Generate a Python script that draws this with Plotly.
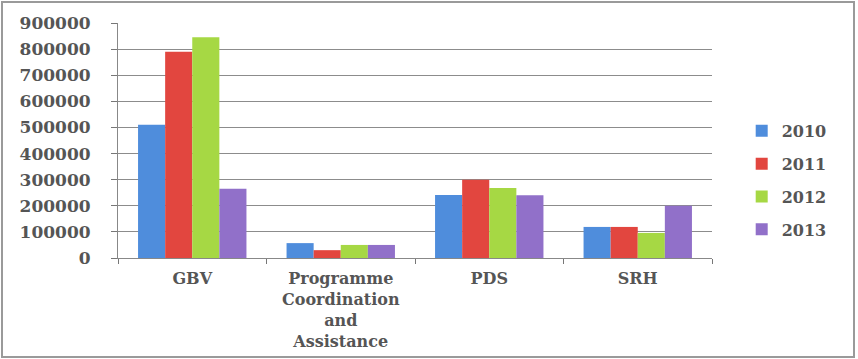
import plotly.graph_objects as go

categories = ["GBV", "Programme<br>Coordination<br>and<br>Assistance", "PDS", "SRH"]
years = ["2010", "2011", "2012", "2013"]
values_2010 = [510000, 57000, 241000, 119000]
values_2011 = [790000, 30000, 300000, 119000]
values_2012 = [845000, 50000, 268000, 96000]
values_2013 = [265000, 50000, 240000, 200000]
series = [values_2010, values_2011, values_2012, values_2013]
colors = ["#4f8ddc", "#e2463f", "#a6d844", "#9170c9"]
y_ticks = list(range(0, 900001, 100000))

W, H = 858, 359
ML, MR, MT, MB = 118, 146, 23, 101
PW, PH = W - ML - MR, H - MT - MB

fig = go.Figure()
for i, (yr, vals) in enumerate(zip(years, series)):
    fig.add_trace(go.Bar(
        x=categories, y=vals, name=yr,
        marker=dict(color=colors[i], line=dict(width=0)),
        legendgroup=yr,
    ))

font_family = "DejaVu Serif"
text_color = "#555555"
fig.update_layout(
    width=W, height=H,
    margin=dict(l=ML, r=MR, t=MT, b=MB, autoexpand=False),
    paper_bgcolor="white", plot_bgcolor="white",
    barmode="group", bargap=0.27, bargroupgap=0,
    font=dict(family=font_family, size=16, color=text_color, weight="bold"),
    showlegend=True,
    legend=dict(
        x=1.05, y=0.33, xanchor="left", yanchor="middle",
        font=dict(family=font_family, size=16, color=text_color, weight="bold"),
        tracegroupgap=9, itemwidth=30,
        bgcolor="rgba(0,0,0,0)",
    ),
    xaxis=dict(
        type="category", tickson="boundaries", ticks="outside",
        ticklen=5, tickcolor="#777", showline=True, linecolor="#888",
        linewidth=1, showgrid=False, automargin=False,
        tickfont=dict(size=16, weight="bold"), ticklabelstandoff=6,
    ),
    yaxis=dict(
        range=[0, 900000], tickvals=y_ticks,
        ticktext=[str(v) for v in y_ticks],
        ticks="outside", ticklen=6, tickcolor="#777",
        showline=True, linecolor="#888", linewidth=1,
        showgrid=True, gridcolor="#8c8c8c", gridwidth=1,
        zeroline=False, tickfont=dict(size=17, weight="bold"),
        ticklabelstandoff=17, automargin=False,
    ),
    shapes=[dict(
        type="rect", xref="paper", yref="paper",
        x0=(2 - ML) / PW, x1=(854 - ML) / PW,
        y0=(MT + PH - 357) / PH, y1=(MT + PH - 2) / PH,
        line=dict(color="#9a9a9a", width=2), fillcolor="rgba(0,0,0,0)",
        layer="below",
    )],
)

fig.write_html("out.html")
